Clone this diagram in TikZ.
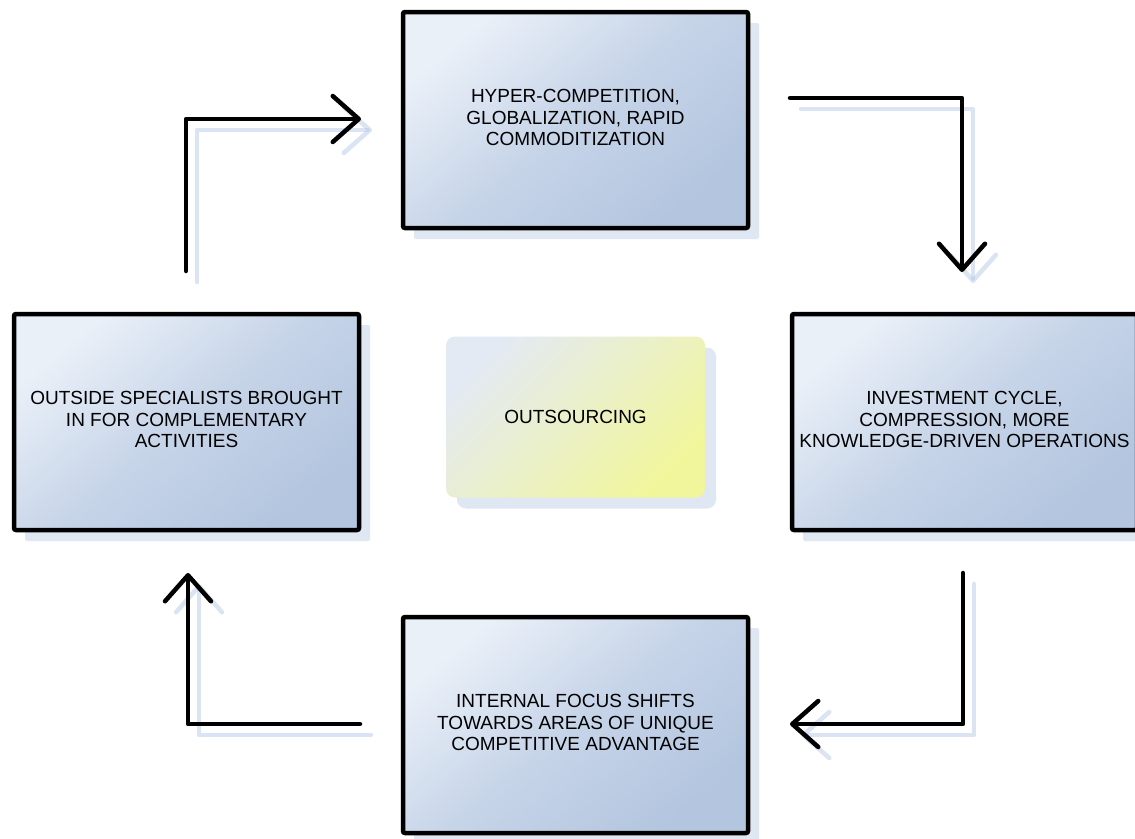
\documentclass[tikz,border=0pt]{standalone}
\usepackage{fontspec}
\setmainfont{Liberation Sans}
\usetikzlibrary{arrows.meta,shadows}

\definecolor{boxlight}{HTML}{EAF0F8}
\definecolor{boxmid}{HTML}{C6D4E8}
\definecolor{boxdark}{HTML}{B3C5DF}
\definecolor{boxshade}{HTML}{DFE7F2}
\definecolor{coreyellow}{HTML}{F1F69C}
\definecolor{corelight}{HTML}{E4EAF3}
\definecolor{arrowshade}{HTML}{AFC4E4}

\tikzset{
  stagebox/.style={
    draw=black, line width=4.5pt, rounded corners=2pt,
    minimum width=345pt, minimum height=216pt, inner sep=0pt,
    top color=boxlight, bottom color=boxdark, middle color=boxmid,
    shading angle=40,
    drop shadow={shadow xshift=11pt, shadow yshift=-11pt, fill=boxshade, opacity=1},
    font=\fontsize{19}{21.5}\selectfont, align=center, text=black},
  corebox/.style={
    rounded corners=9pt,
    minimum width=259pt, minimum height=161pt, inner sep=0pt,
    top color=corelight, bottom color=coreyellow, shading angle=45,
    drop shadow={shadow xshift=11pt, shadow yshift=-11pt, fill=boxshade, opacity=1},
    font=\fontsize{19}{21.5}\selectfont, text=black},
  cycleflow/.style={line width=4.5pt, line cap=round, line join=round,
    -{Straight Barb[length=26pt, width=46pt, round]}},
  cycleshade/.style={cycleflow, draw=arrowshade, draw opacity=0.45},
  behind/.style={xshift=11pt, yshift=-11pt}
}

\begin{document}
\begin{tikzpicture}[x=1pt, y=-1pt]
  \useasboundingbox (0,0) rectangle (1135,838);
  \clip (0,0) rectangle (1135,838);
  \fill[white] (0,0) rectangle (1135,838);

  % the four stages of the cycle and the core
  \node[stagebox] (drivers) at (575.5,120)
    {\raisebox{5pt}{\begin{tabular}{@{}c@{}}HYPER-COMPETITION,\\GLOBALIZATION, RAPID\\COMMODITIZATION\end{tabular}}};
  \node[stagebox] (investment) at (964.5,422)
    {\raisebox{3pt}{\begin{tabular}{@{}c@{}}INVESTMENT CYCLE,\\COMPRESSION, MORE\\KNOWLEDGE-DRIVEN OPERATIONS\end{tabular}}};
  \node[stagebox] (focus) at (575.5,725)
    {\raisebox{4pt}{\begin{tabular}{@{}c@{}}INTERNAL FOCUS SHIFTS\\TOWARDS AREAS OF UNIQUE\\COMPETITIVE ADVANTAGE\end{tabular}}};
  \node[stagebox] (specialists) at (186.5,422)
    {\raisebox{2pt}{\begin{tabular}{@{}c@{}}OUTSIDE SPECIALISTS BROUGHT\\IN FOR COMPLEMENTARY\\ACTIVITIES\end{tabular}}};
  \node[corebox] (core) at (575.5,417) {OUTSOURCING};

  % connector end points
  \coordinate (a1s) at (186,271);  \coordinate (a1c) at (186,119);  \coordinate (a1e) at (361,119);
  \coordinate (a2s) at (790,98);   \coordinate (a2c) at (962,98);   \coordinate (a2e) at (962,272);
  \coordinate (a3s) at (963,573);  \coordinate (a3c) at (963,724);  \coordinate (a3e) at (790,724);
  \coordinate (a4s) at (360,724);  \coordinate (a4c) at (188,724);  \coordinate (a4e) at (188,573);

  % soft shadows of the connectors
  \draw[cycleshade] ([behind]a1s) -- ([behind]a1c) -- ([behind]a1e);
  \draw[cycleshade] ([behind]a2s) -- ([behind]a2c) -- ([behind]a2e);
  \draw[cycleshade] ([behind]a3s) -- ([behind]a3c) -- ([behind]a3e);
  \draw[cycleshade] ([behind]a4s) -- ([behind]a4c) -- ([behind]a4e);

  % connectors
  \draw[cycleflow] (a1s) -- (a1c) -- (a1e);
  \draw[cycleflow] (a2s) -- (a2c) -- (a2e);
  \draw[cycleflow] (a3s) -- (a3c) -- (a3e);
  \draw[cycleflow] (a4s) -- (a4c) -- (a4e);
\end{tikzpicture}
\end{document}
